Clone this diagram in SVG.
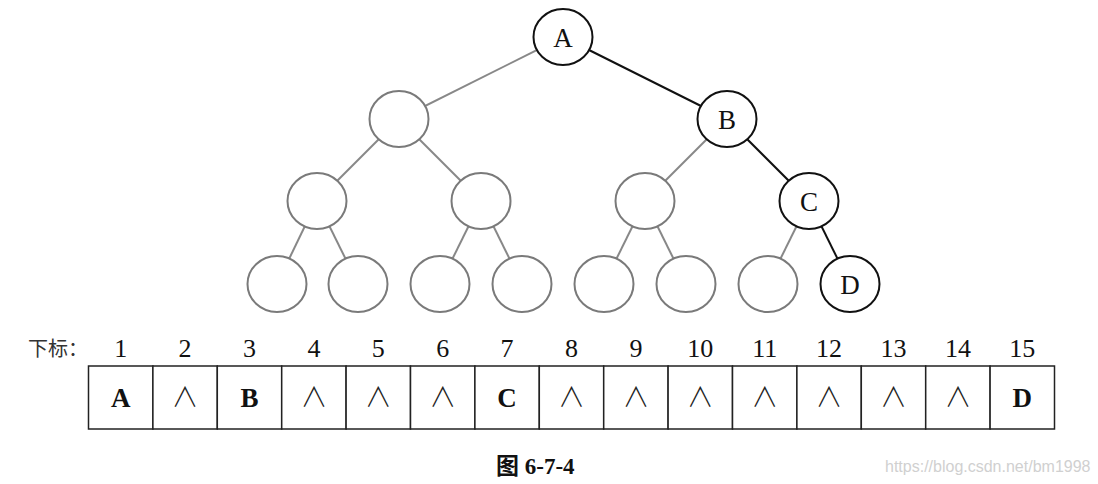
<svg xmlns="http://www.w3.org/2000/svg" width="1098" height="484" viewBox="0 0 1098 484">
<style>
.bg{fill:#fff}
.nb{fill:#fff;stroke:#111;stroke-width:2}
.ng{fill:#fff;stroke:#7a7a7a;stroke-width:2}
.eb{stroke:#111;stroke-width:2}
.eg{stroke:#888;stroke-width:2}
.lbl{font-family:"Liberation Serif","Times New Roman",serif;font-size:27px;fill:#111;text-anchor:middle}
.cell{fill:#fff;stroke:#222;stroke-width:1.5}
.idx{font-family:"Liberation Serif","Times New Roman",serif;font-size:26px;fill:#111;text-anchor:middle}
.val{font-family:"Liberation Serif","Times New Roman",serif;font-size:27px;font-weight:bold;fill:#111;text-anchor:middle}
.and{font-family:"Noto Sans CJK SC",sans-serif;font-size:27px;font-weight:300;fill:#222;text-anchor:middle}
</style>
<rect class="bg" x="0" y="0" width="1098" height="484"/>
<g id="connectors">
<line class="eg" x1="563" y1="37" x2="399" y2="119"/>
<line class="eb" x1="563" y1="37" x2="727" y2="119"/>
<line class="eg" x1="399" y1="119" x2="317" y2="201"/>
<line class="eg" x1="399" y1="119" x2="481" y2="201"/>
<line class="eg" x1="727" y1="119" x2="645" y2="201"/>
<line class="eb" x1="727" y1="119" x2="809" y2="201"/>
<line class="eg" x1="317" y1="201" x2="277" y2="284"/>
<line class="eg" x1="317" y1="201" x2="358" y2="284"/>
<line class="eg" x1="481" y1="201" x2="440" y2="284"/>
<line class="eg" x1="481" y1="201" x2="522" y2="284"/>
<line class="eg" x1="645" y1="201" x2="604" y2="284"/>
<line class="eg" x1="645" y1="201" x2="686" y2="284"/>
<line class="eg" x1="809" y1="201" x2="768" y2="284"/>
<line class="eb" x1="809" y1="201" x2="850" y2="284"/>
</g>
<g id="n1"><ellipse class="nb" cx="563" cy="37" rx="29.5" ry="28"/><text class="lbl" x="563" y="46.5">A</text></g>
<g id="n2"><ellipse class="ng" cx="399" cy="119" rx="29.5" ry="28"/></g>
<g id="n3"><ellipse class="nb" cx="727" cy="119" rx="29.5" ry="28"/><text class="lbl" x="727" y="128.5">B</text></g>
<g id="n4"><ellipse class="ng" cx="317" cy="201" rx="29.5" ry="28"/></g>
<g id="n5"><ellipse class="ng" cx="481" cy="201" rx="29.5" ry="28"/></g>
<g id="n6"><ellipse class="ng" cx="645" cy="201" rx="29.5" ry="28"/></g>
<g id="n7"><ellipse class="nb" cx="809" cy="201" rx="29.5" ry="28"/><text class="lbl" x="809" y="210.5">C</text></g>
<g id="n8"><ellipse class="ng" cx="277" cy="284" rx="29.5" ry="28"/></g>
<g id="n9"><ellipse class="ng" cx="358" cy="284" rx="29.5" ry="28"/></g>
<g id="n10"><ellipse class="ng" cx="440" cy="284" rx="29.5" ry="28"/></g>
<g id="n11"><ellipse class="ng" cx="522" cy="284" rx="29.5" ry="28"/></g>
<g id="n12"><ellipse class="ng" cx="604" cy="284" rx="29.5" ry="28"/></g>
<g id="n13"><ellipse class="ng" cx="686" cy="284" rx="29.5" ry="28"/></g>
<g id="n14"><ellipse class="ng" cx="768" cy="284" rx="29.5" ry="28"/></g>
<g id="n15"><ellipse class="nb" cx="850" cy="284" rx="29.5" ry="28"/><text class="lbl" x="850" y="293.5">D</text></g>
<g id="array">
<text x="28" y="356" font-family="'Noto Sans CJK SC',sans-serif" font-size="20" fill="#333">下标：</text>
<rect class="cell" x="88.5" y="366" width="64.4" height="63"/>
<rect class="cell" x="152.9" y="366" width="64.4" height="63"/>
<rect class="cell" x="217.3" y="366" width="64.4" height="63"/>
<rect class="cell" x="281.7" y="366" width="64.4" height="63"/>
<rect class="cell" x="346.1" y="366" width="64.4" height="63"/>
<rect class="cell" x="410.5" y="366" width="64.4" height="63"/>
<rect class="cell" x="474.9" y="366" width="64.4" height="63"/>
<rect class="cell" x="539.3" y="366" width="64.4" height="63"/>
<rect class="cell" x="603.7" y="366" width="64.4" height="63"/>
<rect class="cell" x="668.1" y="366" width="64.4" height="63"/>
<rect class="cell" x="732.5" y="366" width="64.4" height="63"/>
<rect class="cell" x="796.9" y="366" width="64.4" height="63"/>
<rect class="cell" x="861.3" y="366" width="64.4" height="63"/>
<rect class="cell" x="925.7" y="366" width="64.4" height="63"/>
<rect class="cell" x="990.1" y="366" width="64.4" height="63"/>
<text class="idx" x="120.7" y="357">1</text>
<text class="idx" x="185.1" y="357">2</text>
<text class="idx" x="249.5" y="357">3</text>
<text class="idx" x="313.9" y="357">4</text>
<text class="idx" x="378.3" y="357">5</text>
<text class="idx" x="442.7" y="357">6</text>
<text class="idx" x="507.1" y="357">7</text>
<text class="idx" x="571.5" y="357">8</text>
<text class="idx" x="635.9" y="357">9</text>
<text class="idx" x="700.3" y="357">10</text>
<text class="idx" x="764.7" y="357">11</text>
<text class="idx" x="829.1" y="357">12</text>
<text class="idx" x="893.5" y="357">13</text>
<text class="idx" x="957.9" y="357">14</text>
<text class="idx" x="1022.3" y="357">15</text>
<text class="val" x="120.7" y="407">A</text>
<text class="and" x="185.1" y="407">∧</text>
<text class="val" x="249.5" y="407">B</text>
<text class="and" x="313.9" y="407">∧</text>
<text class="and" x="378.3" y="407">∧</text>
<text class="and" x="442.7" y="407">∧</text>
<text class="val" x="507.1" y="407">C</text>
<text class="and" x="571.5" y="407">∧</text>
<text class="and" x="635.9" y="407">∧</text>
<text class="and" x="700.3" y="407">∧</text>
<text class="and" x="764.7" y="407">∧</text>
<text class="and" x="829.1" y="407">∧</text>
<text class="and" x="893.5" y="407">∧</text>
<text class="and" x="957.9" y="407">∧</text>
<text class="val" x="1022.3" y="407">D</text>
</g>
<text x="496" y="474" font-family="'Liberation Serif','Noto Sans CJK SC',serif" font-size="23" font-weight="bold" fill="#111">图 6-7-4</text>
<text x="885" y="472" font-family="'Liberation Sans',Arial,sans-serif" font-size="16" fill="#d0d0d0">https://blog.csdn.net/bm1998</text>
</svg>
